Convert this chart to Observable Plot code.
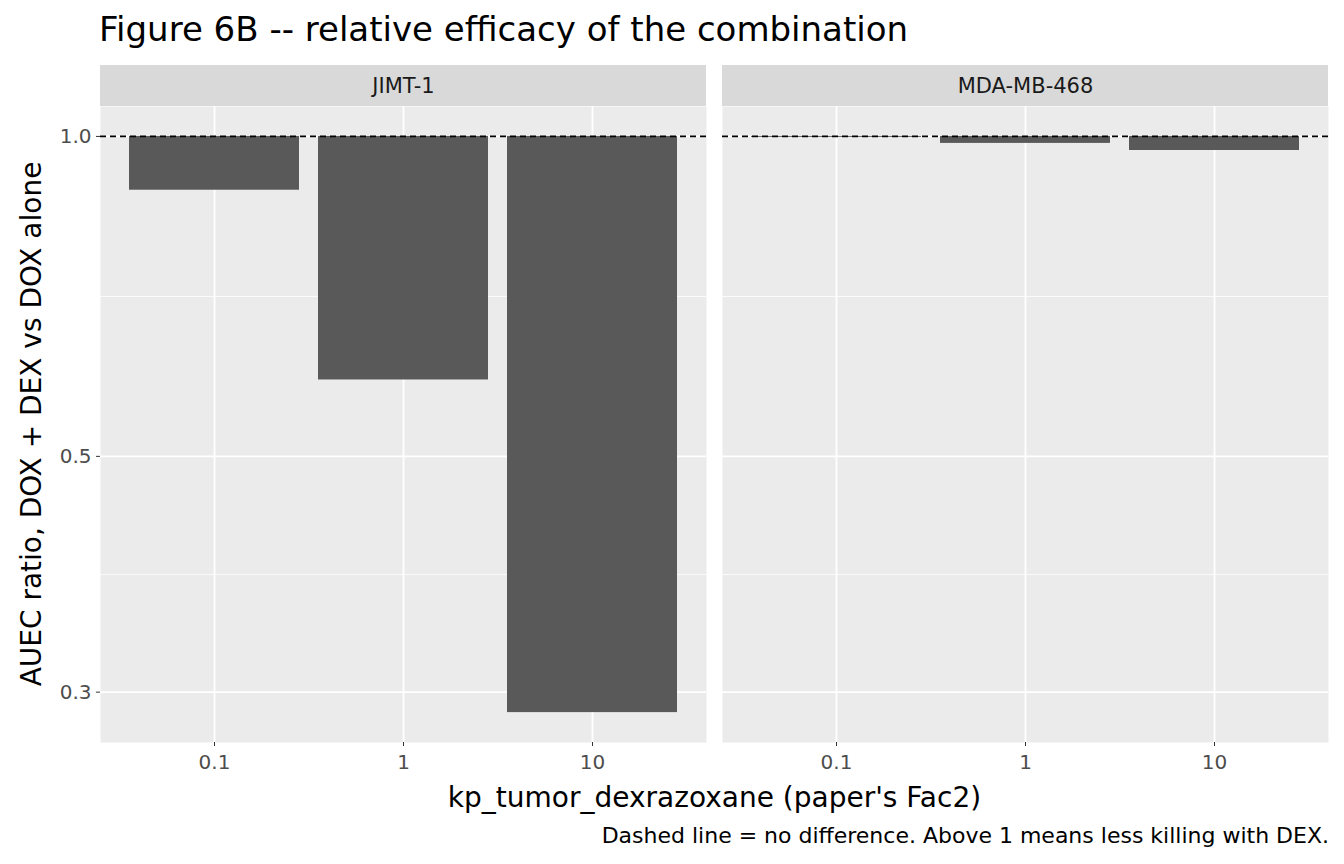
<!DOCTYPE html>
<html><head><meta charset="utf-8">
<script src="https://cdn.jsdelivr.net/npm/d3@7"></script>
<script src="https://cdn.jsdelivr.net/npm/@observablehq/plot@0.6"></script>
<style>
body{margin:0;background:#fff;font-family:"DejaVu Sans",sans-serif;}
#wrap{position:relative;width:1344px;height:864px;}
.t{position:absolute;white-space:nowrap;color:#000;line-height:1;}
</style></head><body>
<div id="wrap">
<div class="t" style="left:99px;top:12px;font-size:34px;">Figure 6B -- relative efficacy of the combination</div>
<div class="t" style="left:100px;width:1229px;top:784px;font-size:28px;text-align:center;">kp_tumor_dexrazoxane (paper's Fac2)</div>
<div class="t" style="right:15px;top:825px;font-size:22px;">Dashed line = no difference. Above 1 means less killing with DEX.</div>
<div class="t" style="left:32px;top:424px;font-size:28px;transform:translate(-50%,-50%) rotate(-90deg);">AUEC ratio, DOX + DEX vs DOX alone</div>
</div>
<script>
const cells = ["JIMT-1", "MDA-MB-468"];
const facs = ["0.1", "1", "10"];
const jimt = [0.89, 0.59, 0.287];
const mda = [0.998, 0.985, 0.970];
const yTicks = [1.0, 0.5, 0.3];
const yMinor = [0.707, 0.387];

const data = [];
facs.forEach((f, i) => data.push({cell: cells[0], fac: f, ratio: jimt[i]}));
facs.forEach((f, i) => data.push({cell: cells[1], fac: f, ratio: mda[i]}));

const chart = Plot.plot({
  width: 1344, height: 864,
  marginTop: 106, marginBottom: 122, marginLeft: 100, marginRight: 15,
  style: {fontFamily: "DejaVu Sans, sans-serif", fontSize: "20px", background: "transparent"},
  fx: {domain: cells, padding: 0.025, axis: null},
  x: {domain: facs, paddingInner: 0.1, paddingOuter: 0.15},
  y: {type: "log", domain: [0.269, 1.067]},
  marks: [
    Plot.frame({fill: "#ebebeb", stroke: null}),
    Plot.ruleY(yMinor, {stroke: "white", strokeWidth: 0.8}),
    Plot.ruleY(yTicks, {stroke: "white", strokeWidth: 1.8}),
    Plot.ruleX(facs, {stroke: "white", strokeWidth: 1.8}),
    Plot.barY(data, {fx: "cell", x: "fac", y1: () => 1, y2: "ratio", fill: "#595959"}),
    Plot.ruleY([1], {stroke: "black", strokeWidth: 1.8, strokeDasharray: "6,4"}),
    Plot.rect(cells, {fx: d => d, y1: 1.067, y2: 1.166, fill: "#d9d9d9"}),
    Plot.text(cells, {fx: d => d, text: d => d, y: 1.115, fill: "#1a1a1a", fontSize: 21}),
    Plot.axisY({ticks: yTicks, tickFormat: ".1f", tickSize: 4, stroke: "#333", color: "#4d4d4d", label: null, fontSize: 20}),
    Plot.axisX({tickSize: 4, stroke: "#333", color: "#4d4d4d", label: null, fontSize: 20, tickPadding: 8})
  ]
});
document.getElementById("wrap").prepend(chart);
chart.style.position = "absolute"; chart.style.left = "0"; chart.style.top = "0";
</script>
</body></html>
